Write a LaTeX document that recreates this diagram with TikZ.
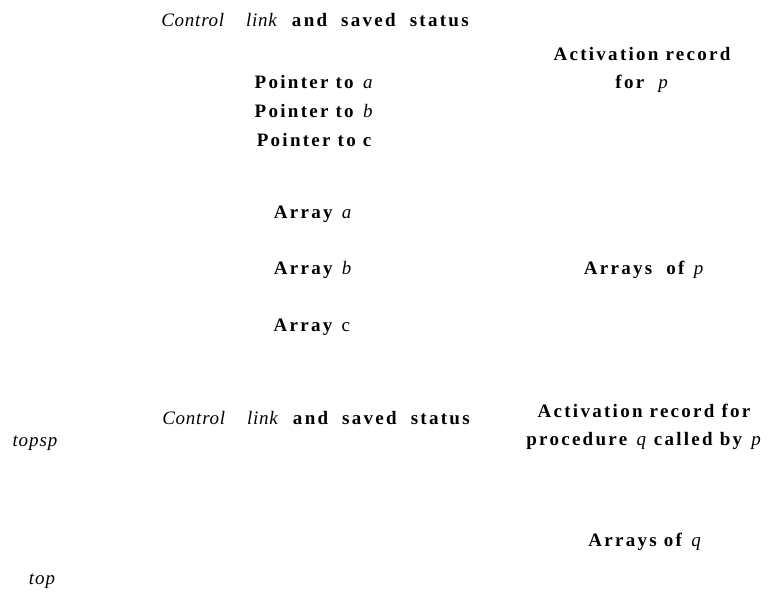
\documentclass[tikz,border=0pt]{standalone}
\usepackage{fontspec}
\setmainfont{Liberation Serif}
\newcommand{\vn}[1]{\textmd{\textit{\addfontfeature{LetterSpace=4}#1}}}
\tikzset{
    txt/.style={inner sep=0pt, align=center, anchor=base,
        font=\fontsize{19}{28}\selectfont\bfseries\addfontfeature{LetterSpace=12}},
    side/.style={inner sep=0pt, anchor=base,
        font=\fontsize{19}{28}\selectfont\itshape\addfontfeature{LetterSpace=5}}
}
\begin{document}
\begin{tikzpicture}[x=1pt, y=-1pt]
    \useasboundingbox (0,0) rectangle (771,592);

    % record of p
    \node[txt] (ctlp) at (315,26) {\vn{Control}\ \ \ \vn{link}\ \ and\ \ saved\ \ status};
    \node[txt, anchor=center] (actp) at (642,70) {Activation record\\for\ \ \vn{p}};
    \node[txt] (ptra) at (314,88) {Pointer to \vn{a}};
    \node[txt] (ptrb) at (314,117) {Pointer to \vn{b}};
    \node[txt] (ptrc) at (314,146) {Pointer to c};

    % arrays of p
    \node[txt] (arra) at (313,218) {Array\ \vn{a}};
    \node[txt] (arrb) at (313,274) {Array\ \vn{b}};
    \node[txt] (arrc) at (313,331) {Array\ \textmd{c}};
    \node[txt] (arrp) at (644,274) {Arrays\ \ of \vn{p}};

    % record of q
    \node[txt] (ctlq) at (316,424) {\vn{Control}\ \ \ \vn{link}\ \ and\ \ saved\ \ status};
    \node[txt, anchor=center] (actq) at (644,427) {Activation record for\\procedure \vn{q} called by \vn{p}};
    \node[txt] (arrq) at (645,546) {Arrays of \vn{q}};

    % stack pointers
    \node[side] (topsp) at (35,446) {topsp};
    \node[side] (top) at (42,584) {top};
\end{tikzpicture}
\end{document}
